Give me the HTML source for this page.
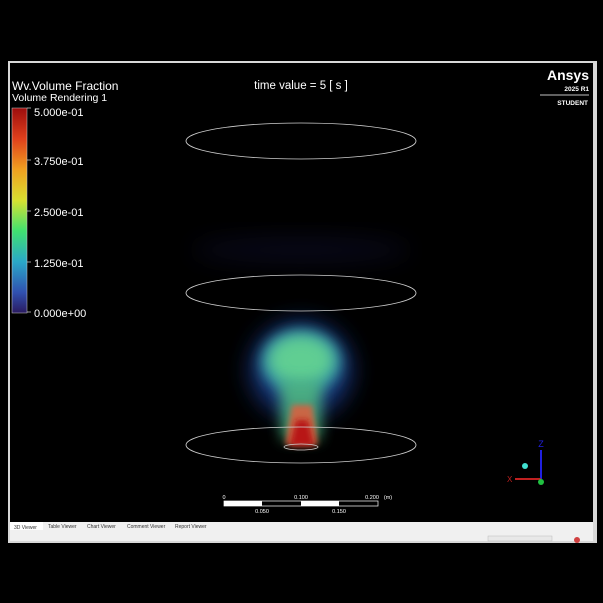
<!DOCTYPE html>
<html><head><meta charset="utf-8"><style>
html,body{margin:0;padding:0;background:#000;width:603px;height:603px;overflow:hidden}
svg{display:block}
text{font-family:"Liberation Sans",sans-serif}
</style></head><body>
<svg width="603" height="603" viewBox="0 0 603 603">
<defs>
<linearGradient id="cb" x1="0" y1="0" x2="0" y2="1">
<stop offset="0" stop-color="#9c0d0d"/><stop offset="0.15" stop-color="#e0401c"/>
<stop offset="0.3" stop-color="#f0a020"/><stop offset="0.45" stop-color="#d8e030"/>
<stop offset="0.6" stop-color="#40e070"/><stop offset="0.75" stop-color="#2aa8c8"/>
<stop offset="0.9" stop-color="#3050b0"/><stop offset="1" stop-color="#2a1a60"/>
</linearGradient>
<filter id="b1" x="-50%" y="-50%" width="200%" height="200%"><feGaussianBlur stdDeviation="12"/></filter>
<filter id="b2" x="-50%" y="-50%" width="200%" height="200%"><feGaussianBlur stdDeviation="7"/></filter>
<filter id="b3" x="-50%" y="-50%" width="200%" height="200%"><feGaussianBlur stdDeviation="3"/></filter>
</defs>
<rect x="8" y="61" width="589" height="482" fill="#d8d8d8"/>
<rect x="10" y="63" width="583" height="459" fill="#000"/>
<rect x="10" y="522" width="583" height="19" fill="#f0f0f0"/>
<rect x="10" y="522" width="33" height="8" fill="#fff"/>
<g font-size="5" fill="#333">
<text x="14" y="529">3D Viewer</text>
<text x="48" y="528">Table Viewer</text>
<text x="87" y="528">Chart Viewer</text>
<text x="127" y="528">Comment Viewer</text>
<text x="175" y="528">Report Viewer</text>
</g>
<rect x="488" y="536" width="64" height="5" fill="#e8e8e8" stroke="#bbb" stroke-width="0.5"/>
<circle cx="577" cy="540" r="3" fill="#d04040"/>

<text x="12" y="90" font-size="12" fill="#fff">Wv.Volume Fraction</text>
<text x="12" y="101" font-size="10.5" fill="#fff">Volume Rendering 1</text>
<rect x="12" y="108" width="15" height="205" fill="url(#cb)" stroke="#ccc" stroke-width="0.5"/>
<g font-size="11" fill="#fff">
<text x="34" y="116">5.000e-01</text>
<text x="34" y="165">3.750e-01</text>
<text x="34" y="216">2.500e-01</text>
<text x="34" y="267">1.250e-01</text>
<text x="34" y="317">0.000e+00</text>
</g>
<g stroke="#fff" stroke-width="0.6"><line x1="27" y1="108" x2="31" y2="108"/><line x1="27" y1="160" x2="31" y2="160"/><line x1="27" y1="211" x2="31" y2="211"/><line x1="27" y1="262" x2="31" y2="262"/><line x1="27" y1="312" x2="31" y2="312"/></g>

<text x="301" y="89" font-size="11.5" fill="#fff" text-anchor="middle">time value = 5 [ s ]</text>
<g fill="#fff" text-anchor="end" font-weight="bold">
<text x="589" y="80" font-size="14">Ansys</text>
<text x="589" y="91" font-size="6.5">2025 R1</text>
<line x1="540" y1="95" x2="589" y2="95" stroke="#fff" stroke-width="0.7"/>
<text x="588" y="105" font-size="6.5">STUDENT</text>
</g>

<ellipse cx="301" cy="250" rx="110" ry="14" fill="#1a1a50" opacity="0.3" filter="url(#b1)"/>
<g>
<ellipse cx="301" cy="370" rx="50" ry="48" fill="#2048a8" opacity="0.75" filter="url(#b1)"/>
<ellipse cx="301" cy="362" rx="40" ry="32" fill="#38a0a8" opacity="0.9" filter="url(#b2)"/>
<ellipse cx="301" cy="360" rx="32" ry="24" fill="#68d890" opacity="0.85" filter="url(#b2)"/>
<path d="M280 380 L322 380 L320 440 L282 440 Z" fill="#50b880" opacity="0.85" filter="url(#b2)"/>
<path d="M292 405 L312 405 L318 445 L285 445 Z" fill="#d86040" opacity="0.9" filter="url(#b3)"/>
<path d="M296 420 L308 420 L314 446 L290 446 Z" fill="#b81818" filter="url(#b3)"/>
</g>
<g fill="none" stroke="#cfcfcf" stroke-width="0.8">
<ellipse cx="301" cy="141" rx="115" ry="18"/>
<ellipse cx="301" cy="293" rx="115" ry="18"/>
<ellipse cx="301" cy="445" rx="115" ry="18"/>
<ellipse cx="301" cy="447" rx="17" ry="3"/>
</g>

<g>
<rect x="224" y="501" width="154" height="5" fill="#000" stroke="#fff" stroke-width="0.7"/>
<rect x="224" y="501" width="38" height="5" fill="#fff"/>
<rect x="301" y="501" width="38" height="5" fill="#fff"/>
<g font-size="5.5" fill="#fff" text-anchor="middle">
<text x="224" y="499">0</text><text x="301" y="499">0.100</text><text x="372" y="499">0.200</text><text x="388" y="499">(m)</text>
<text x="262" y="513">0.050</text><text x="339" y="513">0.150</text>
</g></g>

<g>
<line x1="541" y1="479" x2="541" y2="450" stroke="#2020e0" stroke-width="2"/>
<text x="541" y="447" font-size="9" fill="#2020e0" text-anchor="middle">Z</text>
<line x1="541" y1="479" x2="515" y2="479" stroke="#c02020" stroke-width="2"/>
<text x="507" y="482" font-size="8" fill="#c02020">X</text>
<circle cx="541" cy="482" r="3" fill="#20c040"/>
<circle cx="525" cy="466" r="3" fill="#40e0d0"/>
</g>
</svg>
</body></html>
